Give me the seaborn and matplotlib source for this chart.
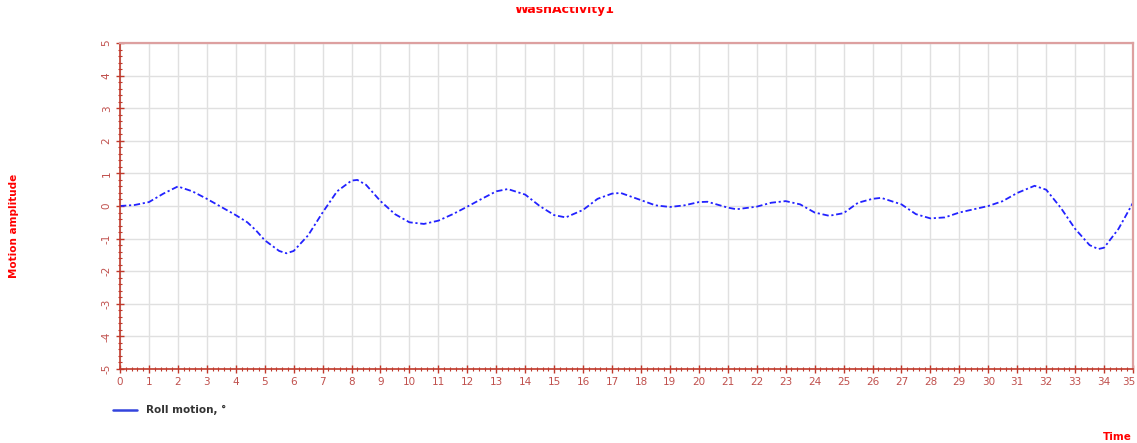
import numpy as np
import pandas as pd
import matplotlib
matplotlib.use("Agg")
import matplotlib.pyplot as plt
from matplotlib.ticker import MultipleLocator
from matplotlib.transforms import ScaledTranslation, Bbox
import seaborn as sns

# Roll motion record (time in s, amplitude in degrees)
time = [0, 0.5, 1, 1.5, 2, 2.5, 3, 3.5, 4, 4.4, 4.7, 5, 5.5, 5.75, 6, 6.5, 7, 7.5,
        8, 8.2, 8.5, 9, 9.5, 10, 10.5, 11, 11.5, 12, 12.5, 13, 13.4, 14, 14.5, 15,
        15.4, 16, 16.5, 17, 17.3, 18, 18.5, 19, 19.5, 20, 20.3, 21, 21.3, 22, 22.5,
        23, 23.5, 24, 24.5, 25, 25.5, 26, 26.3, 27, 27.5, 28, 28.5, 29, 29.5, 30,
        30.5, 31, 31.6, 32, 32.5, 33, 33.5, 33.8, 34, 34.5, 35]
roll = [0.0, 0.03, 0.12, 0.38, 0.6, 0.45, 0.22, -0.03, -0.28, -0.5, -0.75, -1.05,
        -1.38, -1.45, -1.38, -0.9, -0.2, 0.45, 0.78, 0.8, 0.65, 0.15, -0.25, -0.5,
        -0.55, -0.45, -0.25, -0.02, 0.22, 0.45, 0.52, 0.35, 0.0, -0.28, -0.35,
        -0.12, 0.22, 0.38, 0.4, 0.18, 0.02, -0.03, 0.02, 0.12, 0.13, -0.05, -0.1,
        -0.02, 0.1, 0.15, 0.05, -0.2, -0.3, -0.22, 0.1, 0.22, 0.25, 0.05, -0.25,
        -0.38, -0.35, -0.2, -0.1, 0.0, 0.15, 0.4, 0.62, 0.5, -0.05, -0.7, -1.2,
        -1.32, -1.28, -0.7, 0.1]
x_ticks = list(range(0, 36))
y_ticks = list(range(-5, 6))

df = pd.DataFrame({"Time": time, "Roll": roll})

sns.set_style("white")
plt.rcParams["axes.unicode_minus"] = False
W, H = 1137, 443
fig = plt.figure(figsize=(W / 100, H / 100), dpi=100)
ax = fig.add_axes([120 / W, 1 - 369 / H, (1133 - 120) / W, (369 - 43) / H])

red = "#c0392b"
tick_red = "#c0504d"

sns.lineplot(data=df, x="Time", y="Roll", ax=ax, color="#2222ff", lw=1.3,
             linestyle=(0, (3.5, 1.5, 1.2, 1.5)), sort=False, estimator=None,
             legend=False)

ax.set_xlim(0, 35)
ax.set_ylim(-5, 5)
ax.set_xticks(x_ticks)
ax.set_yticks(y_ticks)
ax.xaxis.set_minor_locator(MultipleLocator(0.2))
ax.yaxis.set_minor_locator(MultipleLocator(0.2))
ax.grid(True, which="major", color="#e0e0e0", lw=1)
ax.set_axisbelow(True)
ax.set_xlabel("")
ax.set_ylabel("")

for s in ["left", "bottom"]:
    ax.spines[s].set_color(red)
    ax.spines[s].set_linewidth(1.2)
for s in ["top", "right"]:
    ax.spines[s].set_color("#dda0a0")
    ax.spines[s].set_linewidth(1.6)

ax.tick_params(axis="both", which="both", bottom=True, left=True,
               top=False, right=False)
ax.tick_params(axis="both", which="major", direction="inout", length=6,
               width=1, color=red, labelcolor=tick_red, labelsize=7.5, pad=3)
ax.tick_params(axis="both", which="minor", direction="inout", length=3.5,
               width=0.8, color=red)
ax.tick_params(axis="y", labelrotation=90)
for lbl in ax.get_yticklabels():
    lbl.set_va("center")
# keep the last time label inside the figure
last = ax.get_xticklabels()[-1]
last.set_transform(last.get_transform() + ScaledTranslation(-4 / 100, 0, fig.dpi_scale_trans))

# Title, partly cut off at the top edge
title = fig.text(565 / W, 1 - 10 / H, "WashActivity1", ha="center", va="center",
                 color="red", fontsize=9, fontweight="bold")
title.set_clip_on(True)
title.set_clip_box(Bbox([[0, 0], [W, H - 7]]))

fig.text(14 / W, 1 - 226 / H, "Motion amplitude", rotation=90, ha="center",
         va="center", color="red", fontsize=7.5, fontweight="bold")
fig.text(1132 / W, 1 - 437 / H, "Time", ha="right", va="center", color="red",
         fontsize=7.5, fontweight="bold")

# Legend entry
fig.add_artist(plt.Line2D([113 / W, 137 / W], [1 - 410 / H, 1 - 410 / H],
                          color="#3344dd", lw=1.8, transform=fig.transFigure))
fig.text(146 / W, 1 - 410 / H, "Roll motion, °", ha="left", va="center",
         color="#333333", fontsize=7.5, fontweight="bold")

fig.savefig("out.png", dpi=100)
